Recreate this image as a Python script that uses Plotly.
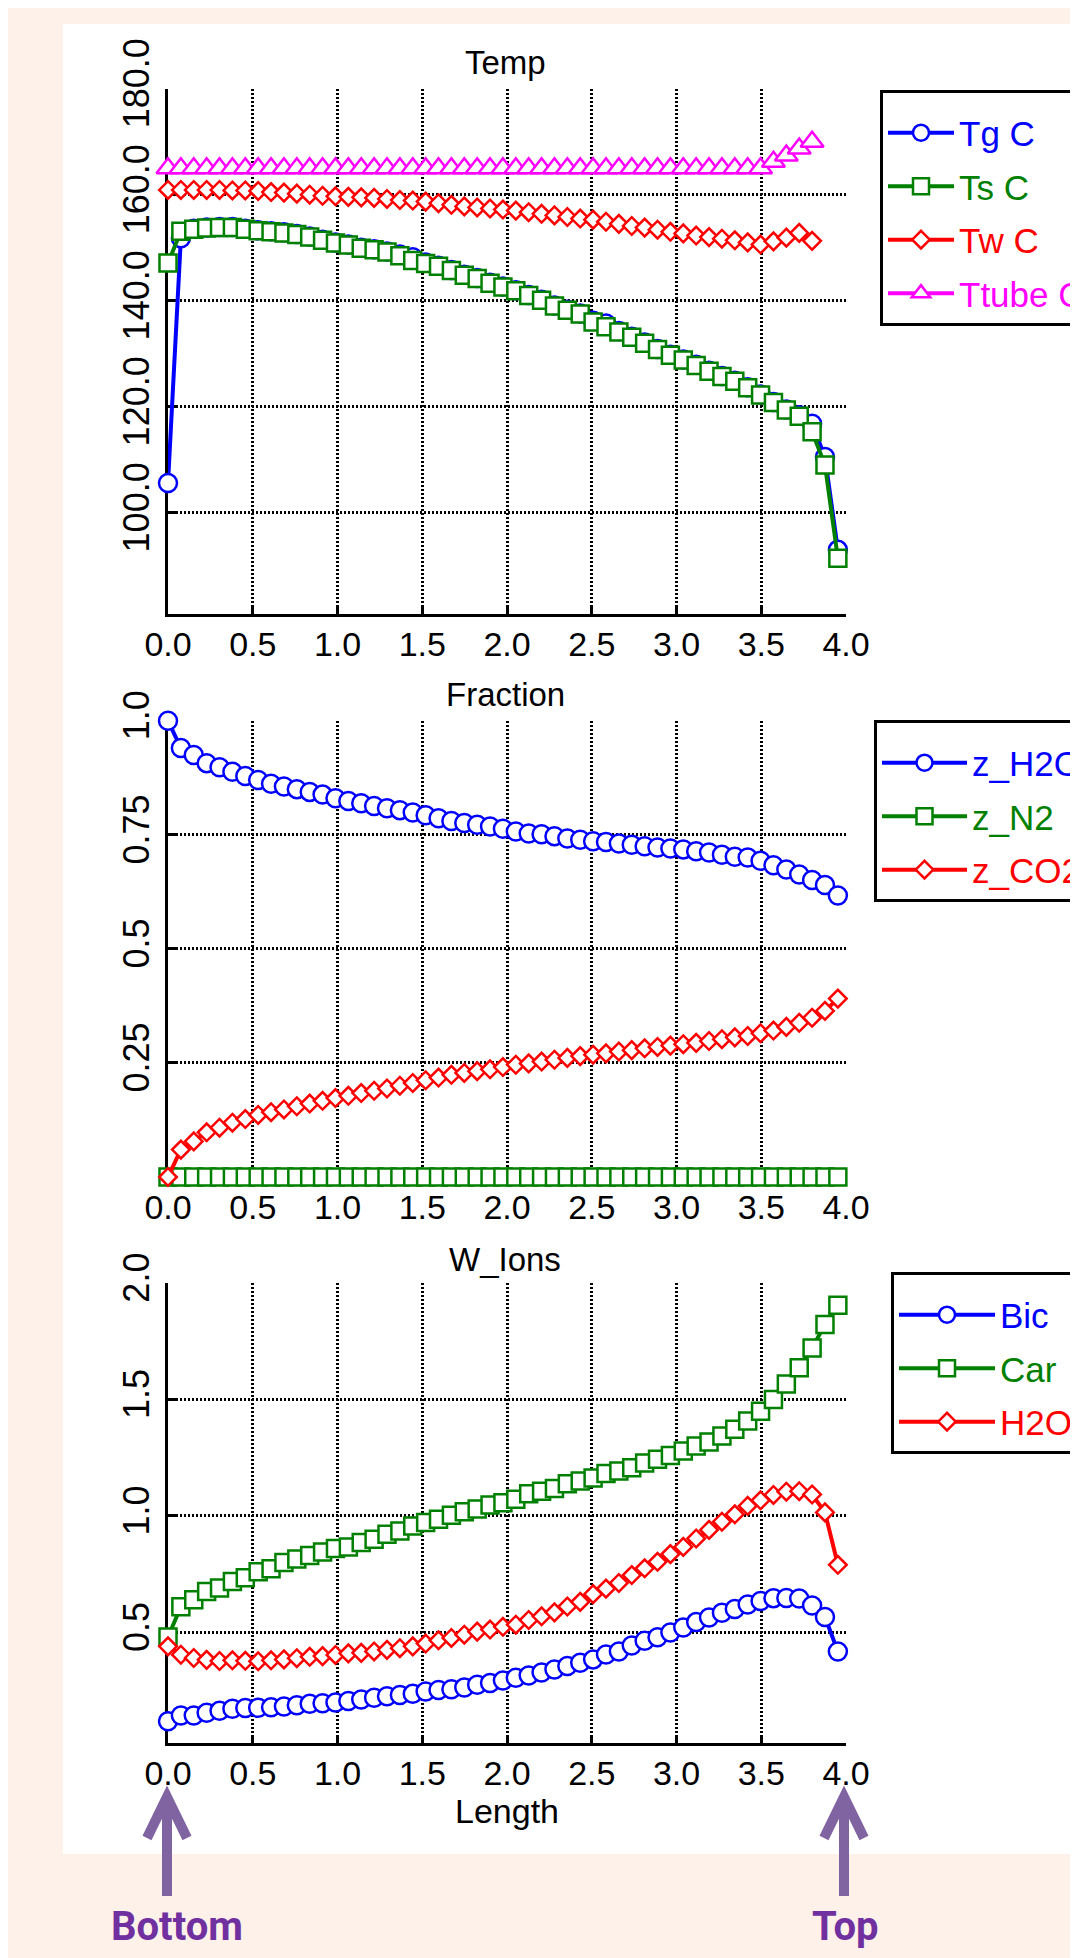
import plotly.graph_objects as go

# ---------------- data ----------------
LENGTH = [0.000, 0.076, 0.152, 0.228, 0.304, 0.380, 0.456, 0.532, 0.608, 0.684,
          0.760, 0.836, 0.912, 0.988, 1.064, 1.140, 1.216, 1.292, 1.368, 1.444,
          1.520, 1.596, 1.672, 1.748, 1.824, 1.900, 1.976, 2.052, 2.128, 2.204,
          2.280, 2.356, 2.432, 2.508, 2.584, 2.660, 2.736, 2.812, 2.888, 2.964,
          3.040, 3.116, 3.192, 3.268, 3.344, 3.420, 3.496, 3.572, 3.648, 3.724,
          3.800, 3.876, 3.952]
LENGTH_WALL = LENGTH[:51]

TG = [105.6, 151.8, 153.6, 153.8, 153.9, 153.9, 153.6, 153.3, 153.1, 152.9,
      152.6, 152.1, 151.5, 151.0, 150.6, 150.0, 149.7, 149.3, 148.7, 148.2,
      147.2, 146.6, 145.8, 144.9, 144.3, 143.4, 142.7, 142.0, 141.1, 140.2,
      139.1, 138.3, 137.6, 136.2, 135.7, 134.3, 133.2, 132.1, 130.9, 129.8,
      128.9, 127.9, 126.8, 125.8, 124.9, 123.7, 122.3, 120.9, 119.5, 118.4,
      116.8, 110.5, 93.0]
TS = [147.1, 153.1, 153.5, 153.7, 153.8, 153.8, 153.5, 153.2, 153.0, 152.8,
      152.5, 152.0, 151.4, 150.9, 150.5, 149.9, 149.6, 149.2, 148.5, 147.6,
      147.0, 146.5, 145.7, 144.8, 144.2, 143.3, 142.6, 141.9, 141.0, 140.1,
      139.0, 138.2, 137.5, 136.0, 135.1, 134.1, 133.1, 132.0, 130.8, 129.7,
      128.8, 127.8, 126.7, 125.7, 124.8, 123.6, 122.2, 120.8, 119.4, 118.2,
      115.3, 109.0, 91.4]
TW = [160.9, 160.9, 160.9, 160.9, 160.9, 160.8, 160.8, 160.7, 160.5, 160.4,
      160.2, 160.0, 159.8, 159.7, 159.6, 159.5, 159.4, 159.2, 159.0, 158.9,
      158.7, 158.4, 158.1, 157.8, 157.6, 157.4, 157.2, 157.0, 156.7, 156.4,
      156.1, 155.8, 155.5, 155.3, 154.9, 154.5, 154.1, 153.8, 153.4, 153.0,
      152.7, 152.3, 152.0, 151.7, 151.4, 151.0, 150.6, 151.2, 151.9, 152.8,
      151.3]
TTUBE = [165.0, 165.0, 165.0, 165.0, 165.0, 165.0, 165.0, 165.0, 165.0, 165.0,
         165.0, 165.0, 165.0, 165.0, 165.0, 165.0, 165.0, 165.0, 165.0, 165.0,
         165.0, 165.0, 165.0, 165.0, 165.0, 165.0, 165.0, 165.0, 165.0, 165.0,
         165.0, 165.0, 165.0, 165.0, 165.0, 165.0, 165.0, 165.0, 165.0, 165.0,
         165.0, 165.0, 165.0, 165.0, 165.0, 165.0, 165.0, 166.2, 167.4, 168.7,
         170.0]

Z_H2O = [1.000, 0.940, 0.925, 0.907, 0.898, 0.888, 0.879, 0.870, 0.862, 0.856,
         0.850, 0.844, 0.838, 0.830, 0.824, 0.819, 0.813, 0.808, 0.804, 0.799,
         0.793, 0.786, 0.780, 0.776, 0.772, 0.768, 0.763, 0.757, 0.753, 0.751,
         0.747, 0.742, 0.739, 0.736, 0.734, 0.731, 0.728, 0.725, 0.722, 0.720,
         0.718, 0.714, 0.711, 0.706, 0.702, 0.700, 0.693, 0.683, 0.674, 0.663,
         0.651, 0.640, 0.617]
Z_N2 = [0.0, 0.0, 0.0, 0.0, 0.0, 0.0, 0.0, 0.0, 0.0, 0.0,
        0.0, 0.0, 0.0, 0.0, 0.0, 0.0, 0.0, 0.0, 0.0, 0.0,
        0.0, 0.0, 0.0, 0.0, 0.0, 0.0, 0.0, 0.0, 0.0, 0.0,
        0.0, 0.0, 0.0, 0.0, 0.0, 0.0, 0.0, 0.0, 0.0, 0.0,
        0.0, 0.0, 0.0, 0.0, 0.0, 0.0, 0.0, 0.0, 0.0, 0.0,
        0.0, 0.0, 0.0]
Z_CO2 = [0.000, 0.060, 0.078, 0.098, 0.108, 0.119, 0.127, 0.136, 0.142, 0.148,
         0.155, 0.161, 0.167, 0.173, 0.178, 0.184, 0.189, 0.194, 0.200, 0.206,
         0.212, 0.218, 0.224, 0.228, 0.232, 0.236, 0.241, 0.246, 0.249, 0.253,
         0.257, 0.261, 0.265, 0.268, 0.271, 0.275, 0.278, 0.282, 0.285, 0.288,
         0.291, 0.294, 0.298, 0.302, 0.306, 0.309, 0.315, 0.321, 0.329, 0.338,
         0.349, 0.364, 0.391]

BIC = [0.118, 0.143, 0.143, 0.155, 0.163, 0.172, 0.175, 0.176, 0.178, 0.182,
       0.187, 0.193, 0.196, 0.199, 0.205, 0.212, 0.219, 0.226, 0.231, 0.236,
       0.246, 0.253, 0.256, 0.263, 0.275, 0.283, 0.293, 0.305, 0.315, 0.328,
       0.341, 0.356, 0.370, 0.384, 0.405, 0.418, 0.444, 0.464, 0.479, 0.499,
       0.521, 0.544, 0.564, 0.584, 0.600, 0.620, 0.635, 0.647, 0.648, 0.645,
       0.615, 0.566, 0.418]
CAR = [0.480, 0.610, 0.640, 0.675, 0.690, 0.718, 0.735, 0.760, 0.773, 0.800,
       0.815, 0.830, 0.845, 0.860, 0.867, 0.886, 0.900, 0.921, 0.935, 0.957,
       0.972, 0.986, 1.003, 1.018, 1.030, 1.047, 1.057, 1.072, 1.095, 1.106,
       1.118, 1.138, 1.150, 1.163, 1.182, 1.193, 1.207, 1.227, 1.243, 1.259,
       1.279, 1.300, 1.317, 1.343, 1.372, 1.407, 1.449, 1.500, 1.566, 1.636,
       1.721, 1.822, 1.905]
H2O_ION = [0.440, 0.404, 0.390, 0.382, 0.377, 0.380, 0.378, 0.376, 0.380, 0.384,
           0.389, 0.395, 0.398, 0.403, 0.410, 0.412, 0.418, 0.425, 0.432, 0.440,
           0.452, 0.466, 0.476, 0.490, 0.503, 0.512, 0.524, 0.533, 0.553, 0.569,
           0.586, 0.611, 0.631, 0.664, 0.688, 0.712, 0.746, 0.775, 0.803, 0.836,
           0.867, 0.903, 0.940, 0.975, 1.007, 1.043, 1.067, 1.090, 1.104, 1.106,
           1.092, 1.015, 0.790]

X_TICKS = [0.0, 0.5, 1.0, 1.5, 2.0, 2.5, 3.0, 3.5, 4.0]
TEMP_TICKS = [100, 120, 140, 160, 180]
FRAC_TICKS = [0.25, 0.5, 0.75, 1.0]
FRAC_TICK_TEXT = ["0.25", "0.5", "0.75", "1.0"]
ION_TICKS = [0.5, 1.0, 1.5, 2.0]

# ---------------- geometry helpers (pixels -> paper) ----------------
W, H = 1078, 1958
def px(x):
    return x / W
def py(y):
    return 1 - y / H

FONT = "Liberation Sans, Arial, sans-serif"
BLUE, GREEN, RED, MAG = "#0000FF", "#008000", "#FF0000", "#FF00FF"
MARKER_SIZE = {"circle": 18, "square": 17, "diamond": 13.5, "triangle-up": 20}

fig = go.Figure()

def add(x, y, name, color, symbol, axis, legend):
    fig.add_trace(go.Scatter(
        x=x, y=y, mode="lines+markers",
        name='<span style="color:%s">%s</span>' % (color, name),
        line=dict(color=color, width=4),
        marker=dict(symbol=symbol, size=MARKER_SIZE[symbol], color="white",
                    line=dict(color=color, width=2.5)),
        xaxis="x" + axis, yaxis="y" + axis,
        legend=legend, legendgroup=name + axis, cliponaxis=False,
    ))

# Temp
add(LENGTH, TG, "Tg C", BLUE, "circle", "", "legend")
add(LENGTH, TS, "Ts C", GREEN, "square", "", "legend")
add(LENGTH_WALL, TW, "Tw C", RED, "diamond", "", "legend")
add(LENGTH_WALL, TTUBE, "Ttube C", MAG, "triangle-up", "", "legend")
# Fraction
add(LENGTH, Z_H2O, "z_H2O", BLUE, "circle", "2", "legend2")
add(LENGTH, Z_N2, "z_N2", GREEN, "square", "2", "legend2")
add(LENGTH, Z_CO2, "z_CO2", RED, "diamond", "2", "legend2")
# W_Ions
add(LENGTH, BIC, "Bic", BLUE, "circle", "3", "legend3")
add(LENGTH, CAR, "Car", GREEN, "square", "3", "legend3")
add(LENGTH, H2O_ION, "H2O", RED, "diamond", "3", "legend3")

X_LEFT, X_RIGHT = 160, 838
PANELS = {
    "": (80.7, 606.0, [80.9, 180.0], TEMP_TICKS, None, ".1f"),
    "2": (712.7, 1169.0, [0.0, 1.0], FRAC_TICKS, FRAC_TICK_TEXT, None),
    "3": (1275.0, 1735.0, [0.025, 2.0], ION_TICKS, None, ".1f"),
}

common = dict(
    showgrid=True, gridcolor="black", gridwidth=2.5, griddash="2px,2px",
    showline=True, linecolor="black", linewidth=3, mirror=False,
    ticks="inside", ticklen=8, tickwidth=2.5, tickcolor="black",
    zeroline=False, layer="below traces",
)

for key, (top, bot, yr, yticks, ytext, yfmt) in PANELS.items():
    xa = dict(common, domain=[px(X_LEFT), px(X_RIGHT)], range=[0, 4],
              tickvals=X_TICKS, tickformat=".1f", anchor="y" + key,
              ticklabelstandoff=-2,
              tickfont=dict(family=FONT, size=34, color="black"))
    ya = dict(common, domain=[py(bot), py(top)], range=yr, tickvals=yticks,
              tickangle=-90, anchor="x" + key, ticklabelstandoff=2,
              tickfont=dict(family=FONT, size=36, color="black"))
    if ytext:
        ya["ticktext"] = ytext
    else:
        ya["tickformat"] = yfmt
    if key == "3":
        xa["title"] = dict(text="Length", font=dict(family=FONT, size=34, color="black"),
                           standoff=2)
    fig.layout["xaxis" + key] = xa
    fig.layout["yaxis" + key] = ya

legend_style = dict(bgcolor="white", bordercolor="black", borderwidth=3,
                    font=dict(family=FONT, size=35), xanchor="left", yanchor="top",
                    tracegroupgap=5,
                    title=dict(text="&nbsp;", font=dict(family=FONT, size=8)))
fig.update_layout(
    legend=dict(legend_style, x=px(872), y=py(82), itemwidth=66),
    legend2=dict(legend_style, x=px(866), y=py(712), itemwidth=85),
    legend3=dict(legend_style, x=px(883), y=py(1264), itemwidth=96),
)

annotations = []
for text, ycen in (("Temp", 55), ("Fraction", 686), ("W_Ions", 1251)):
    annotations.append(dict(text=text, x=px(497), y=py(ycen), xref="paper", yref="paper",
                            showarrow=False, xanchor="center", yanchor="middle",
                            font=dict(family=FONT, size=33, color="black")))
for text, xc in (("Bottom", 169), ("Top", 837)):
    annotations.append(dict(text="<b>%s</b>" % text, x=px(xc), y=py(1918), xref="paper",
                            yref="paper", showarrow=False, xanchor="center",
                            yanchor="middle",
                            font=dict(family="Roboto, sans-serif", size=40, color="#7030A0")))

shapes = [dict(type="rect", xref="paper", yref="paper", x0=px(55), x1=1.0,
               y0=py(1846), y1=py(16), fillcolor="white", line=dict(width=0),
               layer="below")]
for xc in (159, 836):
    path = "M %f,%f L %f,%f M %f,%f L %f,%f L %f,%f" % (
        px(xc), py(1888), px(xc), py(1792),
        px(xc - 20), py(1830), px(xc), py(1789), px(xc + 20), py(1830))
    shapes.append(dict(type="path", xref="paper", yref="paper", path=path,
                       line=dict(color="#8064A2", width=10), layer="above"))

fig.update_layout(
    width=W, height=H,
    margin=dict(l=0, r=0, t=0, b=0, autoexpand=False),
    paper_bgcolor="#FDF1E9", plot_bgcolor="rgba(0,0,0,0)",
    annotations=annotations, shapes=shapes,
    font=dict(family=FONT, color="black"),
)

fig.write_html("out.html")
